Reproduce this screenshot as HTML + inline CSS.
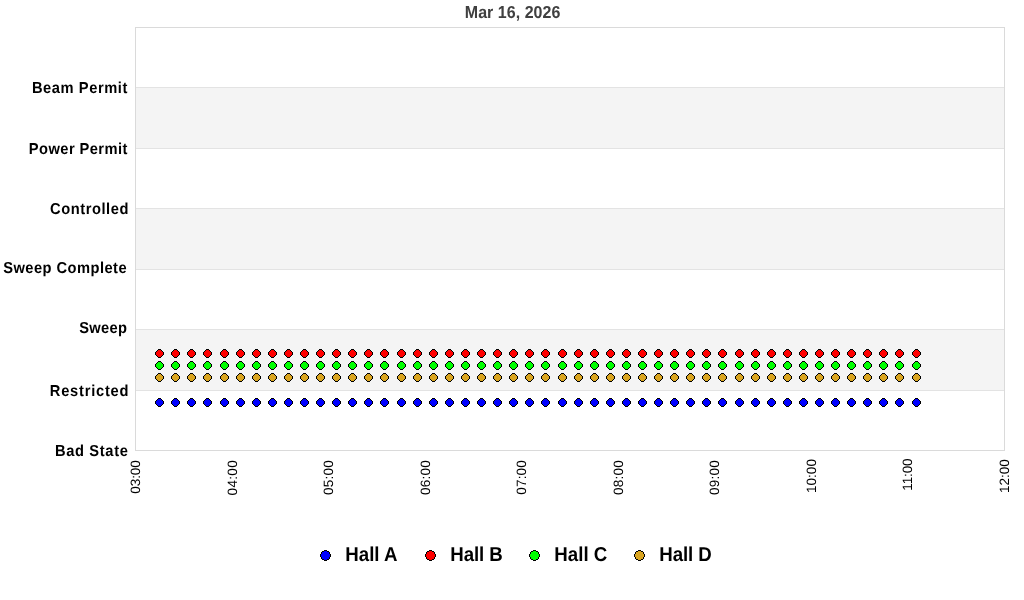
<!DOCTYPE html>
<html><head><meta charset="utf-8"><title>Chart</title>
<style>
html,body{margin:0;padding:0;background:#fff;}
body{width:1024px;height:600px;overflow:hidden;}
svg{display:block;}
text{font-family:"Liberation Sans",Arial,sans-serif;text-rendering:geometricPrecision;}
.yl{font-size:14.67px;font-weight:bold;fill:#000;}
.xl{font-size:13.5px;fill:#000;}
.lg{font-size:18.67px;font-weight:bold;fill:#000;}
.tt{font-size:16px;font-weight:bold;fill:#404040;}
</style></head><body>
<svg width="1024" height="600" viewBox="0 0 1024 600">
<rect width="1024" height="600" fill="#fff"/>

<rect x="135" y="87" width="869" height="61" fill="#f4f4f4"/>
<rect x="135" y="208" width="869" height="61" fill="#f4f4f4"/>
<rect x="135" y="329" width="869" height="61" fill="#f4f4f4"/>
<rect x="135" y="450" width="870" height="1" fill="#dadada"/>
<rect x="135" y="390" width="870" height="1" fill="#e3e3e3"/>
<rect x="135" y="329" width="870" height="1" fill="#e3e3e3"/>
<rect x="135" y="269" width="870" height="1" fill="#e3e3e3"/>
<rect x="135" y="208" width="870" height="1" fill="#e3e3e3"/>
<rect x="135" y="148" width="870" height="1" fill="#e3e3e3"/>
<rect x="135" y="87" width="870" height="1" fill="#e3e3e3"/>
<rect x="135" y="27" width="870" height="1" fill="#dadada"/>
<rect x="135" y="27" width="1" height="424" fill="#dadada"/>
<rect x="1004" y="27" width="1" height="424" fill="#dadada"/>
<text class="tt" transform="translate(464.80,18) scale(1,1.08)" textLength="95.60" lengthAdjust="spacing">Mar 16, 2026</text>
<text class="yl" transform="translate(54.90,456) scale(1,1.08)" textLength="73.00" lengthAdjust="spacing">Bad State</text>
<text class="yl" transform="translate(49.85,396) scale(1,1.08)" textLength="78.55" lengthAdjust="spacing">Restricted</text>
<text class="yl" transform="translate(79.20,333) scale(1,1.08)" textLength="47.65" lengthAdjust="spacing">Sweep</text>
<text class="yl" transform="translate(3.25,273) scale(1,1.08)" textLength="123.30" lengthAdjust="spacing">Sweep Complete</text>
<text class="yl" transform="translate(50.10,214) scale(1,1.08)" textLength="78.30" lengthAdjust="spacing">Controlled</text>
<text class="yl" transform="translate(28.85,154) scale(1,1.08)" textLength="98.55" lengthAdjust="spacing">Power Permit</text>
<text class="yl" transform="translate(31.90,93) scale(1,1.08)" textLength="95.45" lengthAdjust="spacing">Beam Permit</text>
<text class="xl" transform="translate(140.25,493.65) rotate(-90)" textLength="33.45" lengthAdjust="spacing">03:00</text>
<text class="xl" transform="translate(237.23,495.40) rotate(-90)" textLength="35.10" lengthAdjust="spacing">04:00</text>
<text class="xl" transform="translate(333.26,494.95) rotate(-90)" textLength="34.70" lengthAdjust="spacing">05:00</text>
<text class="xl" transform="translate(430.32,494.95) rotate(-90)" textLength="34.70" lengthAdjust="spacing">06:00</text>
<text class="xl" transform="translate(526.35,494.65) rotate(-90)" textLength="34.40" lengthAdjust="spacing">07:00</text>
<text class="xl" transform="translate(623.18,494.95) rotate(-90)" textLength="34.70" lengthAdjust="spacing">08:00</text>
<text class="xl" transform="translate(719.33,494.95) rotate(-90)" textLength="34.70" lengthAdjust="spacing">09:00</text>
<text class="xl" transform="translate(816.29,493.00) rotate(-90)" textLength="33.95" lengthAdjust="spacing">10:00</text>
<text class="xl" transform="translate(911.92,490.75) rotate(-90)" textLength="32.35" lengthAdjust="spacing">11:00</text>
<text class="xl" transform="translate(1009.13,492.90) rotate(-90)" textLength="33.75" lengthAdjust="spacing">12:00</text>
<defs><g id="m" shape-rendering="crispEdges"><path fill="#000" d="M3 0H6V1H7V2H8V3H9V6H8V7H7V8H6V9H3V8H2V7H1V6H0V3H1V2H2V1H3Z"/><path d="M3 1H6V2H7V3H8V6H7V7H6V8H3V7H2V6H1V3H2V2H3Z"/></g><g id="b" shape-rendering="crispEdges"><path fill="#000" d="M4 0H7V1H9V2H10V4H11V7H10V9H9V10H7V11H4V10H2V9H1V7H0V4H1V2H2V1H4Z"/><path d="M4 1H7V2H9V4H10V7H9V9H7V10H4V9H2V7H1V4H2V2H4Z"/></g></defs>
<g fill="#0000ff">
<use href="#m" x="155" y="398"/>
<use href="#m" x="171" y="398"/>
<use href="#m" x="187" y="398"/>
<use href="#m" x="203" y="398"/>
<use href="#m" x="220" y="398"/>
<use href="#m" x="236" y="398"/>
<use href="#m" x="252" y="398"/>
<use href="#m" x="268" y="398"/>
<use href="#m" x="284" y="398"/>
<use href="#m" x="300" y="398"/>
<use href="#m" x="316" y="398"/>
<use href="#m" x="332" y="398"/>
<use href="#m" x="348" y="398"/>
<use href="#m" x="364" y="398"/>
<use href="#m" x="380" y="398"/>
<use href="#m" x="397" y="398"/>
<use href="#m" x="413" y="398"/>
<use href="#m" x="429" y="398"/>
<use href="#m" x="445" y="398"/>
<use href="#m" x="461" y="398"/>
<use href="#m" x="477" y="398"/>
<use href="#m" x="493" y="398"/>
<use href="#m" x="509" y="398"/>
<use href="#m" x="525" y="398"/>
<use href="#m" x="541" y="398"/>
<use href="#m" x="558" y="398"/>
<use href="#m" x="574" y="398"/>
<use href="#m" x="590" y="398"/>
<use href="#m" x="606" y="398"/>
<use href="#m" x="622" y="398"/>
<use href="#m" x="638" y="398"/>
<use href="#m" x="654" y="398"/>
<use href="#m" x="670" y="398"/>
<use href="#m" x="686" y="398"/>
<use href="#m" x="702" y="398"/>
<use href="#m" x="718" y="398"/>
<use href="#m" x="735" y="398"/>
<use href="#m" x="751" y="398"/>
<use href="#m" x="767" y="398"/>
<use href="#m" x="783" y="398"/>
<use href="#m" x="799" y="398"/>
<use href="#m" x="815" y="398"/>
<use href="#m" x="831" y="398"/>
<use href="#m" x="847" y="398"/>
<use href="#m" x="863" y="398"/>
<use href="#m" x="879" y="398"/>
<use href="#m" x="895" y="398"/>
<use href="#m" x="912" y="398"/>
</g>
<g fill="#ff0000">
<use href="#m" x="155" y="349"/>
<use href="#m" x="171" y="349"/>
<use href="#m" x="187" y="349"/>
<use href="#m" x="203" y="349"/>
<use href="#m" x="220" y="349"/>
<use href="#m" x="236" y="349"/>
<use href="#m" x="252" y="349"/>
<use href="#m" x="268" y="349"/>
<use href="#m" x="284" y="349"/>
<use href="#m" x="300" y="349"/>
<use href="#m" x="316" y="349"/>
<use href="#m" x="332" y="349"/>
<use href="#m" x="348" y="349"/>
<use href="#m" x="364" y="349"/>
<use href="#m" x="380" y="349"/>
<use href="#m" x="397" y="349"/>
<use href="#m" x="413" y="349"/>
<use href="#m" x="429" y="349"/>
<use href="#m" x="445" y="349"/>
<use href="#m" x="461" y="349"/>
<use href="#m" x="477" y="349"/>
<use href="#m" x="493" y="349"/>
<use href="#m" x="509" y="349"/>
<use href="#m" x="525" y="349"/>
<use href="#m" x="541" y="349"/>
<use href="#m" x="558" y="349"/>
<use href="#m" x="574" y="349"/>
<use href="#m" x="590" y="349"/>
<use href="#m" x="606" y="349"/>
<use href="#m" x="622" y="349"/>
<use href="#m" x="638" y="349"/>
<use href="#m" x="654" y="349"/>
<use href="#m" x="670" y="349"/>
<use href="#m" x="686" y="349"/>
<use href="#m" x="702" y="349"/>
<use href="#m" x="718" y="349"/>
<use href="#m" x="735" y="349"/>
<use href="#m" x="751" y="349"/>
<use href="#m" x="767" y="349"/>
<use href="#m" x="783" y="349"/>
<use href="#m" x="799" y="349"/>
<use href="#m" x="815" y="349"/>
<use href="#m" x="831" y="349"/>
<use href="#m" x="847" y="349"/>
<use href="#m" x="863" y="349"/>
<use href="#m" x="879" y="349"/>
<use href="#m" x="895" y="349"/>
<use href="#m" x="912" y="349"/>
</g>
<g fill="#00ff00">
<use href="#m" x="155" y="361"/>
<use href="#m" x="171" y="361"/>
<use href="#m" x="187" y="361"/>
<use href="#m" x="203" y="361"/>
<use href="#m" x="220" y="361"/>
<use href="#m" x="236" y="361"/>
<use href="#m" x="252" y="361"/>
<use href="#m" x="268" y="361"/>
<use href="#m" x="284" y="361"/>
<use href="#m" x="300" y="361"/>
<use href="#m" x="316" y="361"/>
<use href="#m" x="332" y="361"/>
<use href="#m" x="348" y="361"/>
<use href="#m" x="364" y="361"/>
<use href="#m" x="380" y="361"/>
<use href="#m" x="397" y="361"/>
<use href="#m" x="413" y="361"/>
<use href="#m" x="429" y="361"/>
<use href="#m" x="445" y="361"/>
<use href="#m" x="461" y="361"/>
<use href="#m" x="477" y="361"/>
<use href="#m" x="493" y="361"/>
<use href="#m" x="509" y="361"/>
<use href="#m" x="525" y="361"/>
<use href="#m" x="541" y="361"/>
<use href="#m" x="558" y="361"/>
<use href="#m" x="574" y="361"/>
<use href="#m" x="590" y="361"/>
<use href="#m" x="606" y="361"/>
<use href="#m" x="622" y="361"/>
<use href="#m" x="638" y="361"/>
<use href="#m" x="654" y="361"/>
<use href="#m" x="670" y="361"/>
<use href="#m" x="686" y="361"/>
<use href="#m" x="702" y="361"/>
<use href="#m" x="718" y="361"/>
<use href="#m" x="735" y="361"/>
<use href="#m" x="751" y="361"/>
<use href="#m" x="767" y="361"/>
<use href="#m" x="783" y="361"/>
<use href="#m" x="799" y="361"/>
<use href="#m" x="815" y="361"/>
<use href="#m" x="831" y="361"/>
<use href="#m" x="847" y="361"/>
<use href="#m" x="863" y="361"/>
<use href="#m" x="879" y="361"/>
<use href="#m" x="895" y="361"/>
<use href="#m" x="912" y="361"/>
</g>
<g fill="#daa520">
<use href="#m" x="155" y="373"/>
<use href="#m" x="171" y="373"/>
<use href="#m" x="187" y="373"/>
<use href="#m" x="203" y="373"/>
<use href="#m" x="220" y="373"/>
<use href="#m" x="236" y="373"/>
<use href="#m" x="252" y="373"/>
<use href="#m" x="268" y="373"/>
<use href="#m" x="284" y="373"/>
<use href="#m" x="300" y="373"/>
<use href="#m" x="316" y="373"/>
<use href="#m" x="332" y="373"/>
<use href="#m" x="348" y="373"/>
<use href="#m" x="364" y="373"/>
<use href="#m" x="380" y="373"/>
<use href="#m" x="397" y="373"/>
<use href="#m" x="413" y="373"/>
<use href="#m" x="429" y="373"/>
<use href="#m" x="445" y="373"/>
<use href="#m" x="461" y="373"/>
<use href="#m" x="477" y="373"/>
<use href="#m" x="493" y="373"/>
<use href="#m" x="509" y="373"/>
<use href="#m" x="525" y="373"/>
<use href="#m" x="541" y="373"/>
<use href="#m" x="558" y="373"/>
<use href="#m" x="574" y="373"/>
<use href="#m" x="590" y="373"/>
<use href="#m" x="606" y="373"/>
<use href="#m" x="622" y="373"/>
<use href="#m" x="638" y="373"/>
<use href="#m" x="654" y="373"/>
<use href="#m" x="670" y="373"/>
<use href="#m" x="686" y="373"/>
<use href="#m" x="702" y="373"/>
<use href="#m" x="718" y="373"/>
<use href="#m" x="735" y="373"/>
<use href="#m" x="751" y="373"/>
<use href="#m" x="767" y="373"/>
<use href="#m" x="783" y="373"/>
<use href="#m" x="799" y="373"/>
<use href="#m" x="815" y="373"/>
<use href="#m" x="831" y="373"/>
<use href="#m" x="847" y="373"/>
<use href="#m" x="863" y="373"/>
<use href="#m" x="879" y="373"/>
<use href="#m" x="895" y="373"/>
<use href="#m" x="912" y="373"/>
</g>
<use href="#b" x="320" y="550" fill="#0000ff"/>
<text class="lg" transform="translate(345.25,561) scale(1,1.08)" textLength="52.25" lengthAdjust="spacing">Hall A</text>
<use href="#b" x="425" y="550" fill="#ff0000"/>
<text class="lg" transform="translate(450.30,561) scale(1,1.08)" textLength="52.50" lengthAdjust="spacing">Hall B</text>
<use href="#b" x="529" y="550" fill="#00ff00"/>
<text class="lg" transform="translate(554.25,561) scale(1,1.08)" textLength="53.10" lengthAdjust="spacing">Hall C</text>
<use href="#b" x="634" y="550" fill="#daa520"/>
<text class="lg" transform="translate(659.25,561) scale(1,1.08)" textLength="52.60" lengthAdjust="spacing">Hall D</text>
</svg></body></html>
